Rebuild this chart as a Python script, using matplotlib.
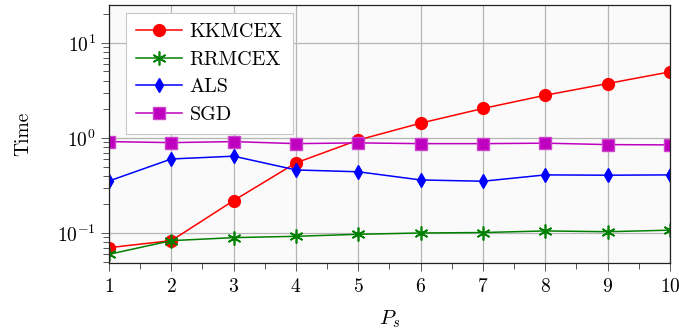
import numpy as np
import matplotlib
matplotlib.use("Agg")
from matplotlib import pyplot as plt
from matplotlib.ticker import LogLocator, MultipleLocator, NullFormatter

plt.rcParams['font.family'] = 'serif'
plt.rcParams['font.serif'] = ['cmr10', 'DejaVu Serif']
plt.rcParams['mathtext.fontset'] = 'cm'
plt.rcParams['axes.formatter.use_mathtext'] = True

ps = [1, 2, 3, 4, 5, 6, 7, 8, 9, 10]
kkmcex = [0.070, 0.083, 0.219, 0.546, 0.95, 1.43, 2.04, 2.81, 3.73, 4.95]
rrmcex = [0.0596, 0.083, 0.0893, 0.0922, 0.0968, 0.0999, 0.101, 0.105, 0.103, 0.107]
als = [0.352, 0.60, 0.642, 0.46, 0.44, 0.361, 0.35, 0.408, 0.405, 0.408]
sgd = [0.914, 0.892, 0.914, 0.87, 0.886, 0.87, 0.87, 0.88, 0.85, 0.844]

fig = plt.figure(figsize=(6.79, 3.34), dpi=100)
ax = fig.add_axes([0.1605, 0.2126, 0.8262, 0.7724])
ax.set_facecolor('#fafafa')

ax.plot(ps, kkmcex, color='red', marker='o', markersize=8.5, lw=1.1, label='KKMCEX')
ax.plot(ps, rrmcex, color='green', marker=(6, 2, 0), markersize=10, mew=1.2, lw=1.1, label='RRMCEX')
ax.plot(ps, als, color='blue', marker='d', markersize=7.5, lw=1.1, label='ALS')
ax.plot(ps, sgd, color='m', marker='s', markersize=8.5, lw=1.1, label='SGD',
        markeredgecolor='#cc44cc')

ax.set_yscale('log')
ax.set_xlim(1, 10)
ax.set_ylim(0.0483, 25)
ax.xaxis.set_major_locator(MultipleLocator(1))
ax.xaxis.set_minor_locator(MultipleLocator(0.5))
ax.yaxis.set_major_locator(LogLocator(base=10, numticks=10))
ax.yaxis.set_minor_locator(LogLocator(base=10, subs=np.arange(2, 10), numticks=10))
ax.yaxis.set_minor_formatter(NullFormatter())

ax.grid(True, which='major', color='#b5b5b5', lw=0.9)
ax.set_axisbelow(True)
ax.tick_params(axis='both', which='major', direction='out', length=6, width=0.7,
               color='#555555', labelsize=14, top=False, right=False)
ax.tick_params(axis='both', which='minor', direction='out', length=4.5, width=0.7,
               color='#555555', top=False, right=False)
ax.tick_params(axis='x', which='major', pad=5)
for side in ax.spines.values():
    side.set_linewidth(0.9)
    side.set_color('#222222')

ax.set_xlabel('$P_s$', fontsize=15, labelpad=9)
ax.set_ylabel('Time', fontsize=14, labelpad=18)

leg = ax.legend(loc='upper left', bbox_to_anchor=(0.0303, 0.969), borderaxespad=0,
                fontsize=14.5, frameon=True, fancybox=False, framealpha=1,
                edgecolor='#c8c8c8', handlelength=2.3, handletextpad=0.35,
                borderpad=0.5, labelspacing=0.47)
leg.get_frame().set_linewidth(0.8)

fig.savefig('out.png', dpi=100)
